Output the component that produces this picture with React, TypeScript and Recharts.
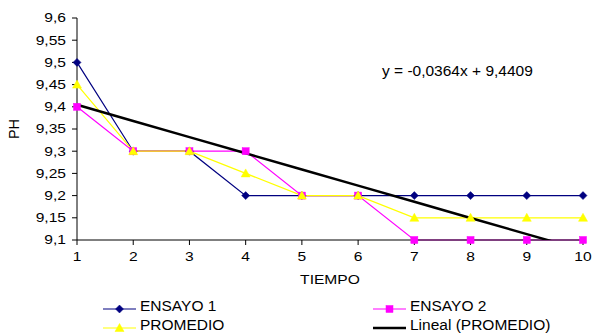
import React from 'react';
import { LineChart, Line, XAxis, YAxis, Legend, Customized } from 'recharts';

const categories = [1, 2, 3, 4, 5, 6, 7, 8, 9, 10];
const ensayo1 = [9.5, 9.3, 9.3, 9.2, 9.2, 9.2, 9.2, 9.2, 9.2, 9.2];
const ensayo2 = [9.4, 9.3, 9.3, 9.3, 9.2, 9.2, 9.1, 9.1, 9.1, 9.1];
const promedio = [9.45, 9.3, 9.3, 9.25, 9.2, 9.2, 9.15, 9.15, 9.15, 9.15];
const lineal = [9.4045, 9.3681, 9.3317, 9.2953, 9.2589, 9.2225, 9.1861, 9.1497, 9.1133, 9.0769];
const yTicks = [9.1, 9.15, 9.2, 9.25, 9.3, 9.35, 9.4, 9.45, 9.5, 9.55, 9.6];
const equationText = 'y = -0,0364x + 9,4409';
const xTitle = 'TIEMPO';
const yTitle = 'PH';
const seriesNames = ['ENSAYO 1', 'ENSAYO 2', 'PROMEDIO', 'Lineal (PROMEDIO)'];

const data = categories.map((c, i) => ({
  t: c,
  e1: ensayo1[i],
  e2: ensayo2[i],
  p: promedio[i],
  l: lineal[i],
}));

const FONT = '"Liberation Sans", Arial, sans-serif';
const NAVY = '#000080';
const MAGENTA = '#FF00FF';
const YELLOW = '#FFFF00';

const Diamond = ({ cx, cy }: any) => (
  <polygon points={`${cx},${cy - 4} ${cx + 4},${cy} ${cx},${cy + 4} ${cx - 4},${cy}`} fill={NAVY} stroke={NAVY} strokeWidth={0.5} />
);
const Square = ({ cx, cy }: any) => (
  <rect x={cx - 3.5} y={cy - 3.5} width={7} height={7} fill={MAGENTA} stroke={MAGENTA} strokeWidth={0.5} />
);
const Triangle = ({ cx, cy }: any) => (
  <polygon points={`${cx},${cy - 4.5} ${cx + 4.5},${cy + 3.5} ${cx - 4.5},${cy + 3.5}`} fill={YELLOW} stroke={YELLOW} strokeWidth={0.5} />
);

const fmt = (v: number) => String(v).replace('.', ',');

const YTick = (props: any) => {
  const { x, y, payload } = props;
  return (
    <g transform={`translate(${x},${y}) scale(1.3,1)`}>
      <text x={0} y={0} dy={4.3} textAnchor="end" fontFamily={FONT} fontSize={12} fill="#000">
        {fmt(payload.value)}
      </text>
    </g>
  );
};

const XTick = (props: any) => {
  const { x, y, payload } = props;
  return (
    <g transform={`translate(${x},${y}) scale(1.3,1)`}>
      <text x={0} y={0} dy={14} textAnchor="middle" fontFamily={FONT} fontSize={12} fill="#000">
        {payload.value}
      </text>
    </g>
  );
};

const XLabel = (props: any) => {
  const vb = props.viewBox || {};
  const cx = vb.x + vb.width / 2;
  const y = vb.y + 44;
  return (
    <g transform={`translate(${cx},${y}) scale(1.25,1)`}>
      <text x={0} y={0} textAnchor="middle" fontFamily={FONT} fontSize={12.5} fill="#000">
        {xTitle}
      </text>
    </g>
  );
};

const YLabel = (props: any) => {
  const vb = props.viewBox || {};
  const cx = vb.x + 14;
  const cy = vb.y + vb.height / 2;
  return (
    <g transform={`translate(${cx},${cy}) rotate(-90) scale(1.2,1.15)`}>
      <text x={0} y={0} dy={4.5} textAnchor="middle" fontFamily={FONT} fontSize={12} fill="#000">
        {yTitle}
      </text>
    </g>
  );
};

const legendItems = [
  { name: seriesNames[0], color: NAVY, marker: 'diamond', left: 103, top: 19 },
  { name: seriesNames[1], color: MAGENTA, marker: 'square', left: 373, top: 19 },
  { name: seriesNames[2], color: YELLOW, marker: 'triangle', left: 103, top: 38 },
  { name: seriesNames[3], color: '#000', marker: 'none', left: 373, top: 38 },
];

const LegendContent = () => (
  <div style={{ position: 'relative', width: 593, height: 44 }}>
    {legendItems.map((it) => (
      <div key={it.name} style={{ position: 'absolute', left: it.left, top: it.top - 9, height: 18, display: 'flex', alignItems: 'center' }}>
        <svg width={34} height={18} style={{ display: 'block' }}>
          <line x1={0} y1={9} x2={33} y2={9} stroke={it.color} strokeWidth={it.marker === 'none' ? 2.5 : 1.2} />
          {it.marker === 'diamond' && <Diamond cx={16.5} cy={9} />}
          {it.marker === 'square' && <Square cx={16.5} cy={9} />}
          {it.marker === 'triangle' && <Triangle cx={16.5} cy={9} />}
        </svg>
        <span style={{ position: 'relative', top: -3, marginLeft: 3, fontFamily: FONT, fontSize: 15.5, color: '#000', lineHeight: '18px', whiteSpace: 'nowrap' }}>
          {it.name}
        </span>
      </div>
    ))}
  </div>
);

const Equation = () => (
  <text x={382} y={76} fontFamily={FONT} fontSize={15.5} fill="#000">
    {equationText}
  </text>
);

export default function App() {
  return (
    <div style={{ position: 'absolute', left: 0, top: 0, width: 593, height: 334, background: '#fff' }}>
      <LineChart width={593} height={334} data={data} margin={{ top: 18, right: 10, left: 0, bottom: 0 }}>
        <XAxis
          dataKey="t"
          height={50}
          axisLine={{ stroke: '#000', strokeWidth: 1 }}
          tickLine={{ stroke: '#000', strokeWidth: 1 }}
          tickSize={5}
          tickMargin={2}
          tick={<XTick />}
          interval={0}
          label={<XLabel />}
        />
        <YAxis
          yAxisId="main"
          width={77}
          domain={[9.1, 9.6]}
          ticks={yTicks}
          interval={0}
          axisLine={{ stroke: '#000', strokeWidth: 1 }}
          tickLine={{ stroke: '#000', strokeWidth: 1 }}
          tickSize={5}
          tickMargin={6}
          tick={<YTick />}
          label={<YLabel />}
        />
        <YAxis yAxisId="trend" hide domain={[9.1, 9.6]} allowDataOverflow />
        <Legend verticalAlign="bottom" height={44} wrapperStyle={{ left: 0, width: 593, bottom: 0 }} content={<LegendContent />} />
        <Line yAxisId="main" type="linear" dataKey="e1" name={seriesNames[0]} stroke={NAVY} strokeWidth={1.2}
          dot={(p: any) => <Diamond key={`d1-${p.index}`} cx={p.cx} cy={p.cy} />} activeDot={false} isAnimationActive={false} />
        <Line yAxisId="main" type="linear" dataKey="e2" name={seriesNames[1]} stroke={MAGENTA} strokeWidth={1.2}
          dot={(p: any) => <Square key={`d2-${p.index}`} cx={p.cx} cy={p.cy} />} activeDot={false} isAnimationActive={false} />
        <Line yAxisId="main" type="linear" dataKey="p" name={seriesNames[2]} stroke={YELLOW} strokeWidth={1.2}
          dot={(p: any) => <Triangle key={`d3-${p.index}`} cx={p.cx} cy={p.cy} />} activeDot={false} isAnimationActive={false} />
        <Line yAxisId="trend" type="linear" dataKey="l" name={seriesNames[3]} stroke="#000" strokeWidth={2.5}
          dot={false} activeDot={false} isAnimationActive={false} />
        <Customized component={<Equation />} />
      </LineChart>
    </div>
  );
}
